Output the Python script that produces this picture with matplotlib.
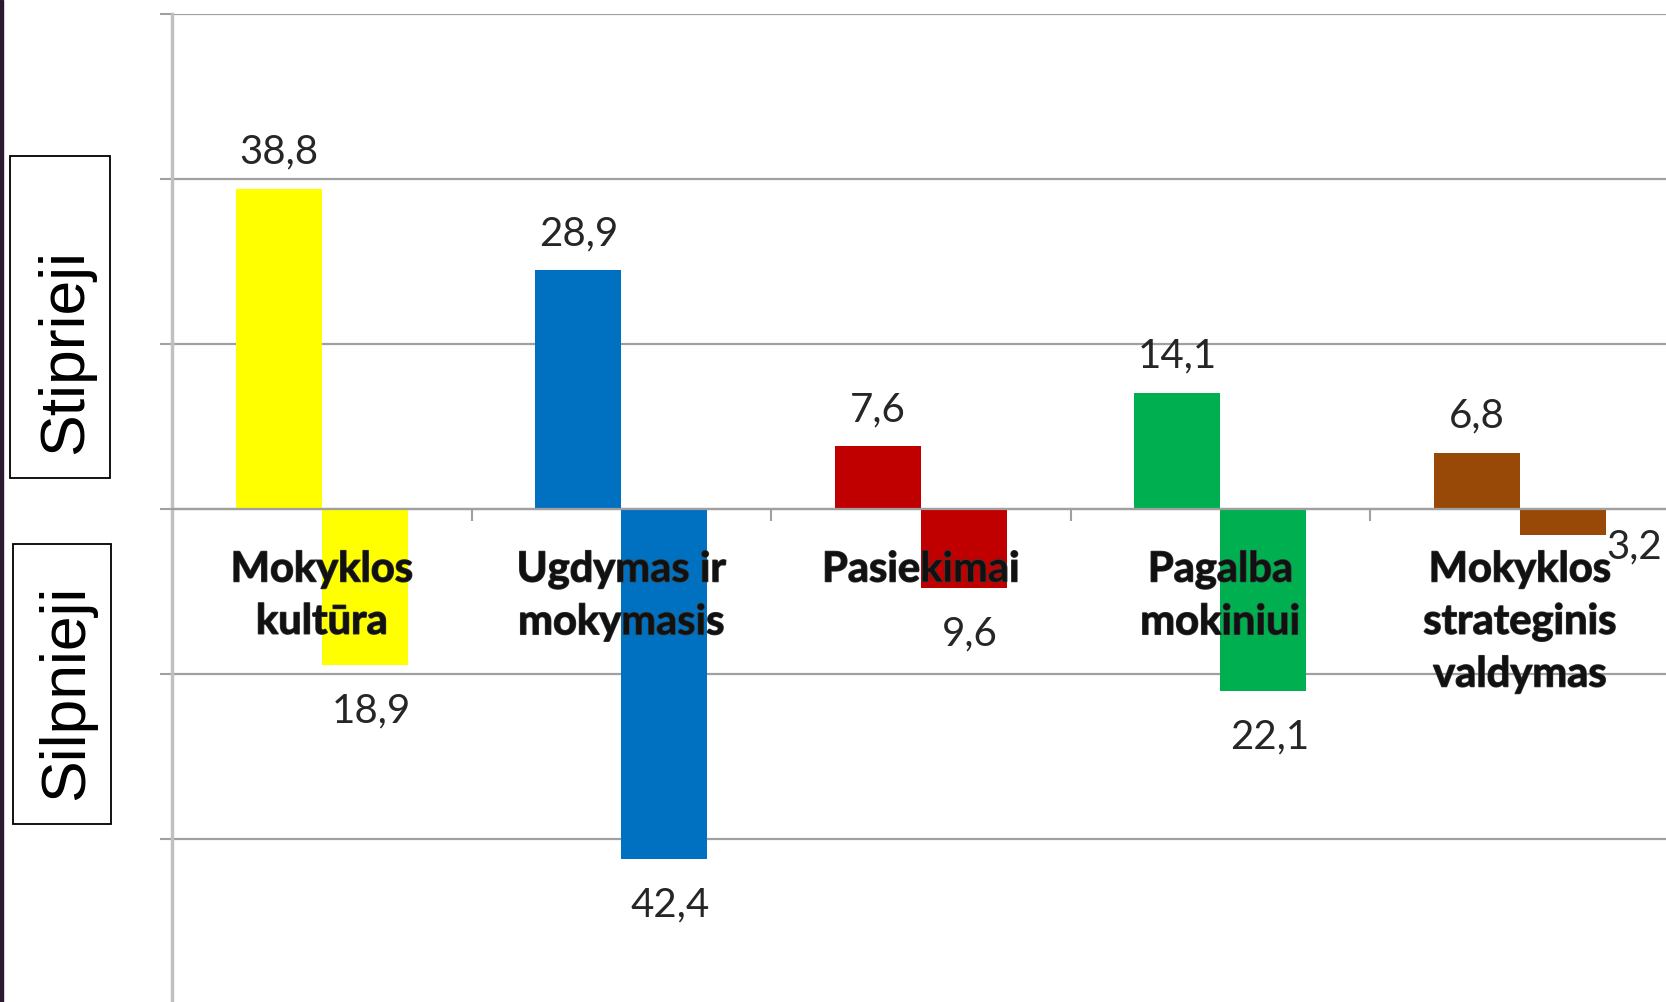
import matplotlib.pyplot as plt
import matplotlib.patheffects as pe
from matplotlib.patches import Rectangle

# --- data ---
categories = ["Mokyklos\nkultūra", "Ugdymas ir\nmokymasis", "Pasiekimai",
              "Pagalba\nmokiniui", "Mokyklos\nstrateginis\nvaldymas"]
stiprieji = [38.8, 28.9, 7.6, 14.1, 6.8]
silpnieji = [18.9, 42.4, 9.6, 22.1, 3.2]
colors = ["#FFFF00", "#0070C0", "#C00000", "#00B050", "#984807"]
y_ticks = [-60, -40, -20, 0, 20, 40, 60]

W, H = 1666, 1002
GRID = "#a0a0a0"
TXT = "#262626"

fig = plt.figure(figsize=(W / 100, H / 100), dpi=100)
ax = fig.add_axes([172 / W, -2 / H, 1497.5 / W, 990.2 / H])

bw = 0.287
x = list(range(len(categories)))
ax.bar([i - bw / 2 for i in x], stiprieji, width=bw, color=colors, zorder=2)
ax.bar([i + bw / 2 for i in x], [-v for v in silpnieji], width=bw,
       color=colors, zorder=2)

ax.set_xlim(-0.5, len(categories) - 0.5)
ax.set_ylim(-60, 60)
ax.set_axisbelow(True)

# y axis: gridlines + short outward ticks, no labels
ax.set_yticks(y_ticks)
ax.set_yticklabels([])
ax.tick_params(axis="y", length=8.6, width=1.5, color=GRID, direction="out")
ax.yaxis.grid(True, color=GRID, linewidth=1.6)

# x axis sits on zero, separator ticks between categories
ax.spines["bottom"].set_position(("data", 0))
ax.spines["bottom"].set_color(GRID)
ax.spines["bottom"].set_linewidth(1.6)
ax.spines["left"].set_color("#c0c0c0")
ax.spines["left"].set_linewidth(2.5)
ax.spines["top"].set_visible(False)
ax.spines["right"].set_visible(False)
ax.set_xticks([])
ax.set_xticks([i + 0.5 for i in x[:-1]], minor=True)
ax.tick_params(axis="x", which="minor", length=8.6, width=1.5, color=GRID,
               direction="out")

# category labels drawn over the bars (soft dark halo like the original)
halo = [pe.withStroke(linewidth=1.0, foreground="#3a3a3a")]
for i, lab in zip(x, categories):
    ax.annotate(lab, (i, 0), xytext=(0, -30), textcoords="offset points",
                ha="center", va="top", fontsize=30, fontweight="bold",
                family="Lato", color="#111111", linespacing=1.46, zorder=5,
                path_effects=halo)

# value labels
for i, v in zip(x, stiprieji):
    ax.annotate(f"{v:.1f}".replace(".", ","), (i - bw / 2, v),
                xytext=(0, 18), textcoords="offset points",
                ha="center", va="baseline", fontsize=29, family="Lato",
                color=TXT, zorder=5)
for i, v in zip(x, silpnieji):
    if v < 5:
        # small bar: label sits beside the bar end
        ax.annotate(f"{v:.1f}".replace(".", ","), (i + bw, -v),
                    xytext=(0.5, -17), textcoords="offset points",
                    ha="left", va="baseline", fontsize=29, family="Lato",
                    color=TXT, zorder=5)
    else:
        ax.annotate(f"{v:.1f}".replace(".", ","), (i + bw / 2, -v),
                    xytext=(4.5, -41.5), textcoords="offset points",
                    ha="center", va="baseline", fontsize=29, family="Lato",
                    color=TXT, zorder=5)

# dark strip at the left border
fig.patches.append(Rectangle((0, 0), 3 / W, 1, transform=fig.transFigure,
                             color="#2b1b30", zorder=0))

# boxed side labels
fig.patches.append(Rectangle((10 / W, 1 - 478 / H), 100 / W, 322 / H,
                             transform=fig.transFigure, fill=False,
                             edgecolor="black", linewidth=1.3))
fig.patches.append(Rectangle((13 / W, 1 - 824 / H), 98 / W, 280 / H,
                             transform=fig.transFigure, fill=False,
                             edgecolor="black", linewidth=1.3))
fig.text(66 / W, 1 - 352 / H, "Stiprieji", rotation=90, ha="center",
         va="center", fontsize=45, family="Liberation Sans", color="black")
fig.text(67 / W, 1 - 692 / H, "Silpnieji", rotation=90, ha="center",
         va="center", fontsize=45, family="Liberation Sans", color="black")

fig.savefig("out.png", dpi=100)
